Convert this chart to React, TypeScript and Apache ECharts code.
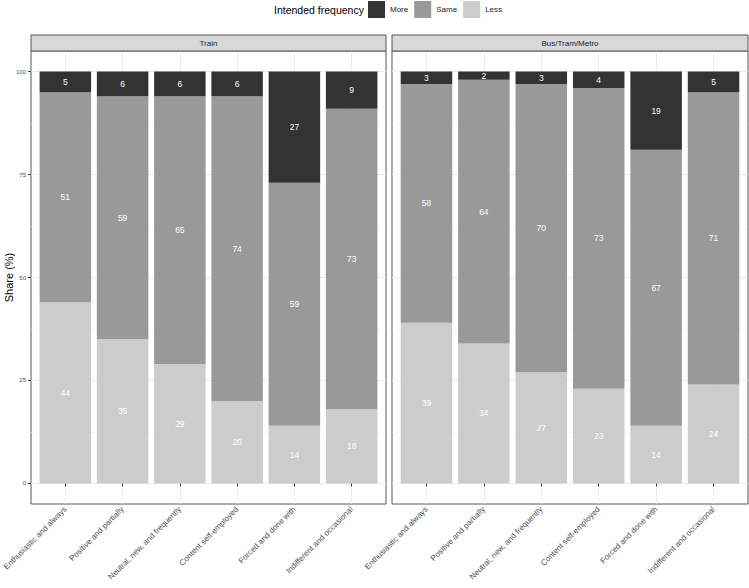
import React, { useEffect, useRef } from 'react';
import * as echarts from 'echarts';

const categories = [
  'Enthusiastic and always',
  'Positive and partially',
  'Neutral, new, and frequently',
  'Content self-employed',
  'Forced and done with',
  'Indifferent and occasional',
];
const categoryPositions = [1, 2, 3, 4, 5, 6];
const panels = ['Train', 'Bus/Tram/Metro'];
const frequencyLevels = ['More', 'Same', 'Less'];

const trainLess = [44, 35, 29, 20, 14, 18];
const trainSame = [51, 59, 65, 74, 59, 73];
const trainMore = [5, 6, 6, 6, 27, 9];

const busLess = [39, 34, 27, 23, 14, 24];
const busSame = [58, 64, 70, 73, 67, 71];
const busMore = [3, 2, 3, 4, 19, 5];

const yTicks = [0, 25, 50, 75, 100];
const yMinorTicks = [12.5, 37.5, 62.5, 87.5];

const FONT = 'Liberation Sans, Arial, Helvetica, sans-serif';
const colors: Record<string, string> = { More: '#333333', Same: '#999999', Less: '#CCCCCC' };

const panelLayout = [
  { left: 31, width: 355 },
  { left: 392, width: 356 },
];
const GRID_TOP = 51;
const GRID_H = 453;
const STRIP_TOP = 35;
const STRIP_H = 16;

export default function App() {
  const ref = useRef<HTMLDivElement>(null);

  useEffect(() => {
    document.body.style.margin = '0';
    if (!ref.current) return;
    const chart = echarts.init(ref.current, undefined, { renderer: 'svg' });

    const panelData = [
      { Less: trainLess, Same: trainSame, More: trainMore },
      { Less: busLess, Same: busSame, More: busMore },
    ];

    const grids = panelLayout.map((p) => ({
      left: p.left,
      top: GRID_TOP,
      width: p.width,
      height: GRID_H,
      show: true,
      borderColor: '#555555',
      borderWidth: 1,
      backgroundColor: '#ffffff',
      containLabel: false,
    }));

    const xAxes = panelLayout.map((_, gi) => ({
      type: 'value',
      gridIndex: gi,
      min: 0.4,
      max: 6.6,
      axisLine: { show: false },
      axisTick: {
        show: true,
        length: 3,
        customValues: categoryPositions,
        lineStyle: { color: '#333333', width: 1 },
      },
      axisLabel: {
        customValues: categoryPositions,
        formatter: (v: number) => categories[Math.round(v) - 1] ?? '',
        rotate: 45,
        fontSize: 8,
        color: '#4D4D4D',
        fontFamily: FONT,
        margin: 4,
      },
      splitLine: { show: true, lineStyle: { color: '#EBEBEB', width: 1 } },
    }));

    const yAxes: any[] = [];
    panelLayout.forEach((_, gi) => {
      yAxes.push({
        type: 'value',
        gridIndex: gi,
        min: -5,
        max: 105,
        axisLine: { show: false },
        axisTick: {
          show: gi === 0,
          length: 3,
          customValues: yTicks,
          lineStyle: { color: '#333333', width: 1 },
        },
        axisLabel: {
          show: gi === 0,
          customValues: yTicks,
          fontSize: 6,
          color: '#4D4D4D',
          fontFamily: FONT,
          margin: 5,
        },
        splitLine: { show: true, lineStyle: { color: '#EBEBEB', width: 1 } },
      });
    });
    panelLayout.forEach((_, gi) => {
      yAxes.push({
        type: 'value',
        gridIndex: gi,
        min: -5,
        max: 105,
        axisLine: { show: false },
        axisTick: { show: false, customValues: yMinorTicks },
        axisLabel: { show: false, customValues: yMinorTicks },
        splitLine: { show: true, lineStyle: { color: '#F3F3F3', width: 0.6 } },
      });
    });

    const series: any[] = [];
    panelData.forEach((pd, gi) => {
      (['Less', 'Same', 'More'] as const).forEach((lvl) => {
        series.push({
          type: 'bar',
          name: lvl,
          xAxisIndex: gi,
          yAxisIndex: gi,
          stack: 'panel' + gi,
          barWidth: 51.5,
          // value first so that it is the stacked dimension; position second
          data: categoryPositions.map((x, i) => [pd[lvl][i], x]),
          encode: { x: 1, y: 0 },
          itemStyle: { color: colors[lvl] },
          label: {
            show: true,
            position: 'inside',
            color: '#ffffff',
            textBorderWidth: 0,
            textBorderColor: 'transparent',
            fontSize: 8.5,
            fontWeight: 'normal',
            fontFamily: FONT,
            formatter: (p: any) => String(p.value[0]),
          },
          emphasis: { disabled: true },
        });
      });
    });

    const graphics: any[] = [];
    panelLayout.forEach((p, gi) => {
      graphics.push({
        type: 'rect',
        shape: { x: p.left, y: STRIP_TOP, width: p.width, height: STRIP_H },
        style: { fill: '#D9D9D9', stroke: '#555555', lineWidth: 1 },
        z: 10,
      });
      graphics.push({
        type: 'text',
        x: p.left + p.width / 2,
        y: STRIP_TOP + STRIP_H / 2,
        style: {
          text: panels[gi],
          fill: '#1A1A1A',
          fontSize: 8,
          fontFamily: FONT,
          align: 'center',
          verticalAlign: 'middle',
        },
        z: 11,
      });
    });
    graphics.push({
      type: 'text',
      x: 9,
      y: GRID_TOP + GRID_H / 2,
      rotation: Math.PI / 2,
      style: {
        text: 'Share (%)',
        fill: '#000000',
        fontSize: 11,
        fontFamily: FONT,
        align: 'center',
        verticalAlign: 'middle',
      },
    });

    chart.setOption({
      animation: false,
      backgroundColor: '#ffffff',
      title: {
        text: 'Intended frequency',
        left: 274,
        top: 4,
        padding: 0,
        textStyle: { fontSize: 10.5, fontWeight: 'normal', color: '#000000', fontFamily: FONT },
      },
      legend: {
        data: frequencyLevels,
        left: 368,
        top: 1,
        padding: 0,
        itemWidth: 17,
        itemHeight: 17,
        itemGap: 6,
        icon: 'rect',
        selectedMode: false,
        textStyle: { fontSize: 8, color: '#1A1A1A', fontFamily: FONT },
      },
      grid: grids,
      xAxis: xAxes,
      yAxis: yAxes,
      series,
      graphic: graphics,
    });

    return () => chart.dispose();
  }, []);

  return <div ref={ref} style={{ width: 749, height: 588 }} />;
}
